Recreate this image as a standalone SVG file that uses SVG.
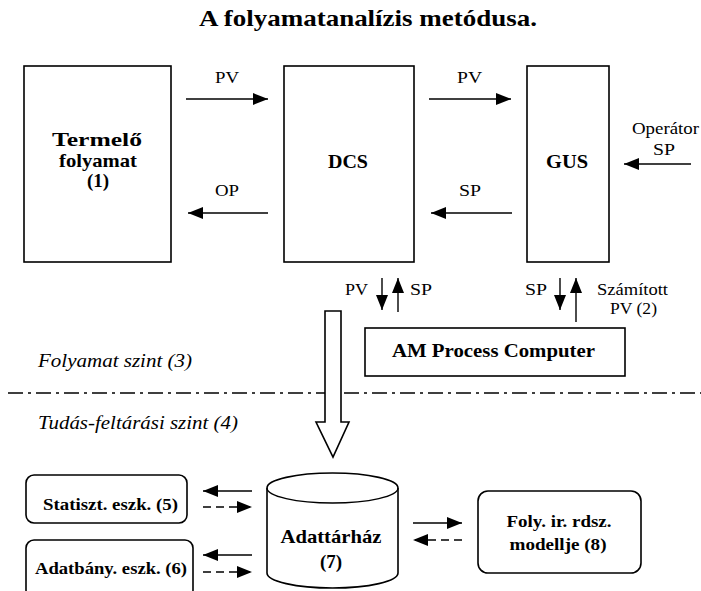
<svg xmlns="http://www.w3.org/2000/svg" width="701" height="591" viewBox="0 0 701 591">
  <style>
    .box { fill: #fff; stroke: #000; stroke-width: 1.6; }
    .ln { stroke: #000; stroke-width: 1.4; fill: none; }
    .dash { stroke-dasharray: 8 5; }
    text { font-family: 'Liberation Serif', 'Times New Roman', 'DejaVu Serif', serif; fill: #000; }
    .b { font-weight: bold; }
    .i { font-style: italic; }
  </style>
  <defs>
    <marker id="head" viewBox="0 0 15 12" refX="15" refY="6" markerWidth="15" markerHeight="12" markerUnits="userSpaceOnUse" orient="auto">
      <path d="M0,0 L15,6 L0,12 z" fill="#000"/>
    </marker>
  </defs>

  <rect width="701" height="591" fill="#fff"/>

  <!-- title -->
  <text class="b" x="199" y="26" font-size="24" textLength="338" lengthAdjust="spacingAndGlyphs">A folyamatanalízis metódusa.</text>

  <!-- level separator and level captions -->
  <g id="levels">
    <line x1="8" y1="393" x2="701" y2="393" stroke="#000" stroke-width="1.6" stroke-dasharray="15 5 3 5"/>
    <text class="i" x="38" y="367" font-size="18" textLength="154" lengthAdjust="spacingAndGlyphs">Folyamat szint (3)</text>
    <text class="i" x="38" y="429" font-size="18" textLength="200" lengthAdjust="spacingAndGlyphs">Tudás-feltárási szint (4)</text>
  </g>

  <!-- nodes -->
  <g id="termelo">
    <rect class="box" x="24" y="66" width="147" height="196"/>
    <text class="b" x="97" y="146" font-size="19" text-anchor="middle" textLength="90" lengthAdjust="spacingAndGlyphs">Termelő</text>
    <text class="b" x="98" y="167" font-size="19" text-anchor="middle" textLength="78" lengthAdjust="spacingAndGlyphs">folyamat</text>
    <text class="b" x="98" y="187" font-size="19" text-anchor="middle">(1)</text>
  </g>

  <g id="dcs">
    <rect class="box" x="284" y="66" width="130" height="196"/>
    <text class="b" x="348" y="168" font-size="18" text-anchor="middle" textLength="40" lengthAdjust="spacingAndGlyphs">DCS</text>
  </g>

  <g id="gus">
    <rect class="box" x="527" y="66" width="82" height="196"/>
    <text class="b" x="567" y="168" font-size="18" text-anchor="middle" textLength="42" lengthAdjust="spacingAndGlyphs">GUS</text>
  </g>

  <g id="am">
    <rect class="box" x="365" y="328" width="260" height="48"/>
    <text class="b" x="392" y="357" font-size="19" textLength="203" lengthAdjust="spacingAndGlyphs">AM Process Computer</text>
  </g>

  <g id="adattarhaz">
    <path class="box" d="M267,488 A65.5,15 0 0 1 398,488 L398,573 A65.5,15 0 0 1 267,573 Z"/>
    <path class="ln" d="M267,488 A65.5,15 0 0 0 398,488" stroke-width="1.6"/>
    <text class="b" x="331" y="543" font-size="19" text-anchor="middle" textLength="101" lengthAdjust="spacingAndGlyphs">Adattárház</text>
    <text class="b" x="331" y="568" font-size="19" text-anchor="middle">(7)</text>
  </g>

  <g id="statiszt">
    <rect class="box" x="26" y="475" width="161" height="48" rx="8"/>
    <text class="b" x="43" y="510" font-size="17" textLength="135" lengthAdjust="spacingAndGlyphs">Statiszt. eszk. (5)</text>
  </g>

  <g id="adatbany">
    <rect class="box" x="26" y="540" width="167" height="58" rx="8"/>
    <text class="b" x="35" y="574" font-size="17" textLength="152" lengthAdjust="spacingAndGlyphs">Adatbány. eszk. (6)</text>
  </g>

  <g id="modell">
    <rect class="box" x="478" y="491" width="163" height="82" rx="10"/>
    <text class="b" x="559" y="527" font-size="17" text-anchor="middle" textLength="105" lengthAdjust="spacingAndGlyphs">Foly. ir. rdsz.</text>
    <text class="b" x="558" y="550" font-size="17" text-anchor="middle" textLength="97" lengthAdjust="spacingAndGlyphs">modellje (8)</text>
  </g>

  <!-- connectors -->
  <g id="connectors">
    <line class="ln" x1="186" y1="99" x2="268" y2="99" marker-end="url(#head)"/>
    <text x="215" y="83" font-size="16" textLength="24" lengthAdjust="spacingAndGlyphs">PV</text>

    <line class="ln" x1="268" y1="213" x2="188" y2="213" marker-end="url(#head)"/>
    <text x="215" y="196" font-size="16" textLength="24" lengthAdjust="spacingAndGlyphs">OP</text>

    <line class="ln" x1="429" y1="99" x2="511" y2="99" marker-end="url(#head)"/>
    <text x="457" y="83" font-size="16" textLength="25" lengthAdjust="spacingAndGlyphs">PV</text>

    <line class="ln" x1="512" y1="213" x2="431" y2="213" marker-end="url(#head)"/>
    <text x="459" y="196" font-size="16" textLength="22" lengthAdjust="spacingAndGlyphs">SP</text>

    <line class="ln" x1="691" y1="164" x2="624" y2="164" marker-end="url(#head)"/>
    <text x="632" y="134" font-size="17" textLength="67" lengthAdjust="spacingAndGlyphs">Operátor</text>
    <text x="653" y="155" font-size="17" textLength="22" lengthAdjust="spacingAndGlyphs">SP</text>

    <line class="ln" x1="382" y1="278" x2="382" y2="310" marker-end="url(#head)"/>
    <line class="ln" x1="398" y1="312" x2="398" y2="278" marker-end="url(#head)"/>
    <text x="345" y="295" font-size="16" textLength="23" lengthAdjust="spacingAndGlyphs">PV</text>
    <text x="410" y="295" font-size="16" textLength="22" lengthAdjust="spacingAndGlyphs">SP</text>

    <line class="ln" x1="560" y1="278" x2="560" y2="310" marker-end="url(#head)"/>
    <line class="ln" x1="576" y1="322" x2="576" y2="278" marker-end="url(#head)"/>
    <text x="525" y="295" font-size="16" textLength="22" lengthAdjust="spacingAndGlyphs">SP</text>
    <text x="597" y="295" font-size="16" textLength="71" lengthAdjust="spacingAndGlyphs">Számított</text>
    <text x="610" y="314" font-size="16" textLength="47" lengthAdjust="spacingAndGlyphs">PV (2)</text>

    <!-- bulk transfer into the warehouse -->
    <polygon points="325,311 341,311 341,422 349,422 333,457 316,422 325,422" fill="#fff" stroke="#000" stroke-width="1.6"/>

    <line class="ln" x1="252" y1="491" x2="203" y2="491" marker-end="url(#head)"/>
    <line class="ln dash" x1="203" y1="507" x2="252" y2="507" marker-end="url(#head)"/>
    <line class="ln" x1="252" y1="555" x2="203" y2="555" marker-end="url(#head)"/>
    <line class="ln dash" x1="203" y1="572" x2="252" y2="572" marker-end="url(#head)"/>

    <line class="ln" x1="413" y1="523" x2="462" y2="523" marker-end="url(#head)"/>
    <line class="ln dash" x1="462" y1="540" x2="413" y2="540" marker-end="url(#head)"/>
  </g>
</svg>
